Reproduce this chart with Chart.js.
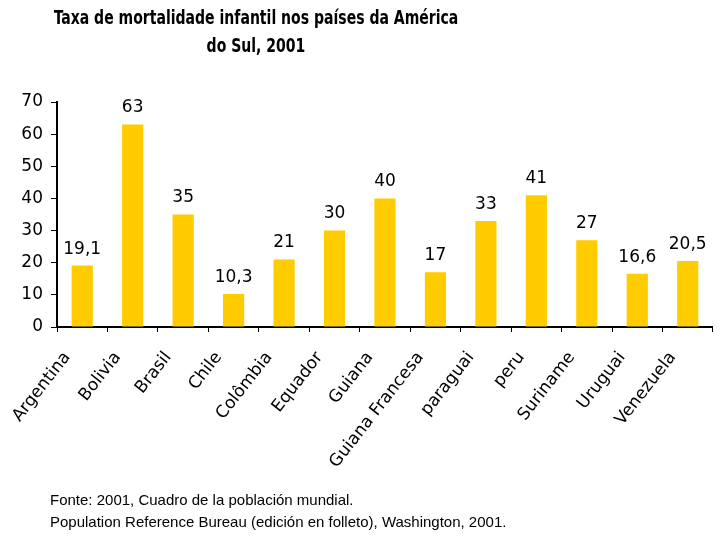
<!DOCTYPE html>
<html>
<head>
<meta charset="utf-8">
<script src="https://cdn.jsdelivr.net/npm/chart.js@4"></script>
<style>
  body { margin: 0; background: #fff; }
  #wrap { position: relative; width: 720px; height: 540px; }
  #title { position: absolute; left: 256px; top: 3px; text-align: center; white-space: nowrap;
           transform: translateX(-50%) scaleX(0.78);
           font: bold 20px "DejaVu Sans Condensed", "DejaVu Sans", sans-serif; line-height: 28px; color: #000; }
  #fonte { position: absolute; left: 50px; top: 489px; font: 15px "Liberation Sans", Arial, sans-serif; line-height: 22px; color: #000; }
</style>
</head>
<body>
<div id="wrap">
  <canvas id="myChart" width="720" height="540"></canvas>
  <div id="title">Taxa de mortalidade infantil nos países da América<br>do Sul, 2001</div>
  <div id="fonte">Fonte: 2001, Cuadro de la población mundial.<br>Population Reference Bureau (edición en folleto), Washington, 2001.</div>
</div>
<script>
var paises = ['Argentina', 'Bolivia', 'Brasil', 'Chile', 'Colômbia', 'Equador', 'Guiana', 'Guiana Francesa', 'paraguai', 'peru', 'Suriname', 'Uruguai', 'Venezuela'];
var taxas = [19.1, 63, 35, 10.3, 21, 30, 40, 17, 33, 41, 27, 16.6, 20.5];
var rotulos = ['19,1', '63', '35', '10,3', '21', '30', '40', '17', '33', '41', '27', '16,6', '20,5'];

// numeros em cima das barras
var valores = {
  id: 'valores',
  afterDatasetsDraw: function (chart) {
    var ctx = chart.ctx;
    var meta = chart.getDatasetMeta(0);
    ctx.save();
    ctx.font = '17px "DejaVu Sans"';
    ctx.fillStyle = '#000';
    ctx.textAlign = 'center';
    ctx.textBaseline = 'bottom';
    meta.data.forEach(function (bar, i) {
      ctx.fillText(rotulos[i], bar.x, bar.y - 8);
    });
    ctx.restore();
  }
};

var ctx = document.getElementById('myChart').getContext('2d');
var chart = new Chart(ctx, {
  type: 'bar',
  data: {
    labels: paises,
    datasets: [{
      data: taxas,
      backgroundColor: '#FFCC00',
      barPercentage: 0.42,
      categoryPercentage: 1
    }]
  },
  options: {
    responsive: false,
    animation: false,
    layout: { padding: { top: 102, right: 5, left: 0, bottom: 0 } },
    plugins: { legend: { display: false }, tooltip: { enabled: false } },
    scales: {
      x: {
        grid: { drawOnChartArea: false, drawTicks: true, tickLength: 5, color: '#000', lineWidth: 1 },
        border: { color: '#000', width: 2 },
        ticks: { color: '#000', font: { family: 'DejaVu Sans', size: 17 }, minRotation: 52, maxRotation: 52,
                 padding: 16, labelOffset: -15, autoSkip: false },
        afterFit: function (s) { s.height = 213; }
      },
      y: {
        min: 0, max: 70,
        grid: { drawOnChartArea: false, drawTicks: true, tickLength: 6, color: '#000' },
        border: { color: '#000', width: 2 },
        ticks: { stepSize: 10, color: '#000', font: { family: 'DejaVu Sans', size: 17 }, padding: 8 },
        afterFit: function (s) { s.width = 57; }
      }
    }
  },
  plugins: [valores]
});
</script>
</body>
</html>
